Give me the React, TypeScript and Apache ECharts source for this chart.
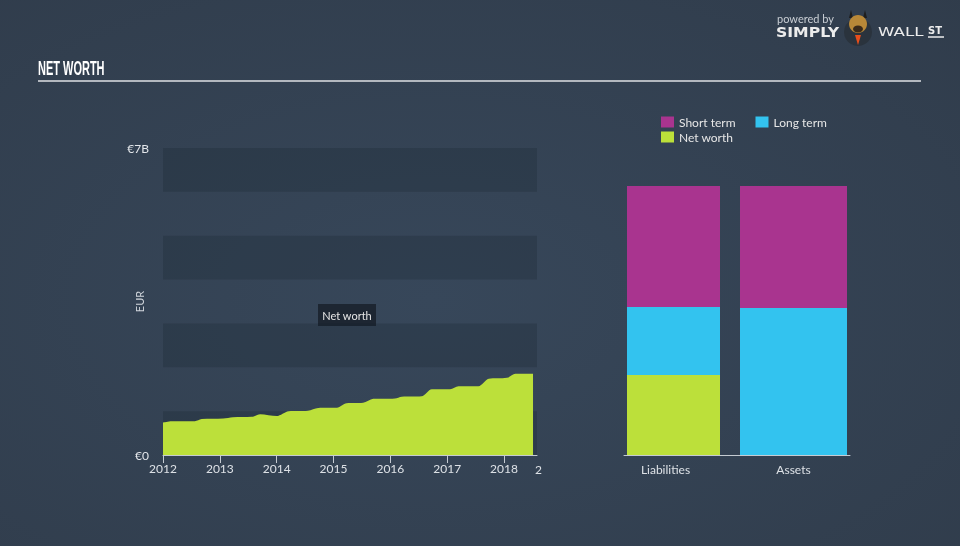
import React, { useEffect, useRef } from "react";
import * as echarts from "echarts";

// Net worth history (year as decimal, value in EUR billions)
const nwYears = [
  2012.0, 2012.15, 2012.56, 2012.68, 2013.06, 2013.23, 2013.56, 2013.71, 2014.0,
  2014.21, 2014.55, 2014.73, 2015.06, 2015.23, 2015.52, 2015.7, 2016.08, 2016.2,
  2016.55, 2016.73, 2017.05, 2017.2, 2017.55, 2017.73, 2018.05, 2018.2, 2018.51,
];
const nwValues = [
  0.74, 0.77, 0.77, 0.82, 0.83, 0.86, 0.87, 0.93, 0.89, 1.0, 1.01, 1.07, 1.08,
  1.18, 1.19, 1.28, 1.29, 1.33, 1.34, 1.5, 1.5, 1.57, 1.57, 1.74, 1.76, 1.85, 1.85,
];
const xMin = 2012;
const xMax = 2018.58;
const yMax = 7;

// Balance sheet (EUR billions)
const balanceCategories = ["Liabilities", "Assets"];
const liabilitiesNetWorth = 1.85;
const liabilitiesLongTerm = 1.57;
const liabilitiesShortTerm = 2.8;
const assetsLongTerm = 3.4;
const assetsShortTerm = 2.82;

const legendRow1 = ["Short term", "Long term"];
const legendRow2 = ["Net worth"];

const C_SHORT = "#a9348f";
const C_LONG = "#33c3ef";
const C_NET = "#bce03a";
const FONT = "Lato, 'Open Sans', sans-serif";

export default function App() {
  const ref = useRef<HTMLDivElement>(null);

  useEffect(() => {
    if (!ref.current) return;
    const chart = echarts.init(ref.current, undefined, { renderer: "svg" });
    const total = liabilitiesNetWorth + liabilitiesLongTerm + liabilitiesShortTerm;

    const option: any = {
      animation: false,
      backgroundColor: {
        type: "radial",
        x: 0.45,
        y: 0.55,
        r: 0.8,
        colorStops: [
          { offset: 0, color: "#37475a" },
          { offset: 1, color: "#303c4b" },
        ],
      },
      textStyle: { fontFamily: FONT },
      legend: [
        {
          data: legendRow1,
          left: 656,
          top: 111,
          icon: "rect",
          itemWidth: 13,
          itemHeight: 11,
          itemGap: 20,
          textStyle: { color: "#e6e6e6", fontSize: 12, fontFamily: FONT },
        },
        {
          data: legendRow2,
          left: 656,
          top: 126,
          icon: "rect",
          itemWidth: 13,
          itemHeight: 11,
          textStyle: { color: "#e6e6e6", fontSize: 12, fontFamily: FONT },
        },
      ],
      grid: [
        { left: 163, right: 423, top: 148, bottom: 91 },
        { left: 624, right: 110, top: 186, bottom: 91 },
      ],
      xAxis: [
        {
          type: "value",
          gridIndex: 0,
          min: xMin,
          max: xMax,
          interval: 1,
          axisLine: { show: true, lineStyle: { color: "#c5cbd2", width: 1 } },
          axisTick: { show: true, length: 8, lineStyle: { color: "#c5cbd2" } },
          axisLabel: {
            color: "#dde1e6",
            fontSize: 12,
            margin: 7,
            showMaxLabel: false,
            formatter: (v: number) => String(Math.round(v)),
          },
          splitLine: { show: false },
        },
        {
          type: "category",
          gridIndex: 1,
          data: [
            { value: balanceCategories[0], textStyle: { padding: [0, 30, 0, 0] } },
            { value: balanceCategories[1] },
          ],
          axisLine: { show: true, lineStyle: { color: "#c5cbd2", width: 1 } },
          axisTick: { show: false },
          axisLabel: { color: "#dde1e6", fontSize: 12, margin: 8 },
        },
      ],
      yAxis: [
        {
          type: "value",
          gridIndex: 0,
          min: 0,
          max: yMax,
          interval: 1,
          name: "EUR",
          nameLocation: "middle",
          nameRotate: 90,
          nameGap: 24,
          nameMoveOverlap: false,
          nameTextStyle: { color: "#d0d5db", fontSize: 11, verticalAlign: "middle" },
          axisLine: { show: false },
          axisTick: { show: false },
          axisLabel: {
            color: "#e3e6ea",
            fontSize: 12,
            margin: 14,
            formatter: (v: number) => (v === 0 ? "€0" : v === yMax ? "€7B" : ""),
          },
          splitLine: { show: false },
          splitArea: {
            show: true,
            areaStyle: { color: ["rgba(20,30,42,0.22)", "rgba(0,0,0,0)"] },
          },
        },
        {
          type: "value",
          gridIndex: 1,
          min: 0,
          max: total,
          show: false,
          splitLine: { show: false },
        },
      ],
      series: [
        {
          name: "Net worth",
          type: "line",
          xAxisIndex: 0,
          yAxisIndex: 0,
          data: nwYears.map((y, i) => [y, nwValues[i]]),
          smooth: 0.3,
          showSymbol: false,
          lineStyle: { width: 0, color: C_NET },
          itemStyle: { color: C_NET },
          areaStyle: { color: C_NET, opacity: 1 },
          silent: true,
        },
        {
          name: "Net worth",
          type: "bar",
          xAxisIndex: 1,
          yAxisIndex: 1,
          stack: "L",
          barWidth: 93,
          barGap: "-100%",
          itemStyle: { color: C_NET },
          data: [liabilitiesNetWorth, "-"],
        },
        {
          name: "Long term",
          type: "bar",
          xAxisIndex: 1,
          yAxisIndex: 1,
          stack: "L",
          barWidth: 93,
          barGap: "-100%",
          itemStyle: { color: C_LONG },
          data: [liabilitiesLongTerm, "-"],
        },
        {
          name: "Short term",
          type: "bar",
          xAxisIndex: 1,
          yAxisIndex: 1,
          stack: "L",
          barWidth: 93,
          barGap: "-100%",
          itemStyle: { color: C_SHORT },
          data: [liabilitiesShortTerm, "-"],
        },
        {
          name: "Long term",
          type: "bar",
          xAxisIndex: 1,
          yAxisIndex: 1,
          stack: "A",
          barWidth: 107,
          barGap: "-100%",
          itemStyle: { color: C_LONG },
          data: ["-", assetsLongTerm],
        },
        {
          name: "Short term",
          type: "bar",
          xAxisIndex: 1,
          yAxisIndex: 1,
          stack: "A",
          barWidth: 107,
          barGap: "-100%",
          itemStyle: { color: C_SHORT },
          data: ["-", assetsShortTerm],
        },
      ],
      graphic: [
        {
          type: "text",
          x: 38,
          y: 68,
          scaleX: 0.55,
          style: {
            text: "NET WORTH",
            fill: "#ffffff",
            font: "bold 20px 'Liberation Sans', Arial, sans-serif",
            verticalAlign: "middle",
          },
        },
        {
          type: "line",
          shape: { x1: 38, y1: 81, x2: 921, y2: 81 },
          style: { stroke: "#b3b8bf", lineWidth: 2 },
          silent: true,
        },
        {
          type: "text",
          x: 535,
          y: 469,
          style: {
            text: "2",
            fill: "#dde1e6",
            font: `12px ${FONT}`,
            verticalAlign: "middle",
          },
        },
        {
          type: "group",
          x: 318,
          y: 304,
          children: [
            {
              type: "rect",
              shape: { x: 0, y: 0, width: 58, height: 22 },
              style: { fill: "#1d2632" },
            },
            {
              type: "text",
              x: 29,
              y: 11,
              style: {
                text: "Net worth",
                fill: "#e6e6e6",
                font: `11px ${FONT}`,
                align: "center",
                verticalAlign: "middle",
              },
            },
          ],
        },
        // logo
        {
          type: "text",
          x: 777,
          y: 18,
          style: {
            text: "powered by",
            fill: "#c9ced4",
            font: `11px ${FONT}`,
            verticalAlign: "middle",
          },
        },
        {
          type: "text",
          x: 776,
          y: 32,
          scaleX: 1.12,
          style: {
            text: "SIMPLY",
            fill: "#ececec",
            font: "bold 14px 'DejaVu Sans', sans-serif",
            verticalAlign: "middle",
          },
        },
        {
          type: "circle",
          shape: { cx: 858, cy: 32, r: 14 },
          style: { fill: "#2a333d" },
        },
        {
          type: "polygon",
          shape: { points: [[849, 18], [851, 10], [853, 18]] },
          style: { fill: "#1e1e1e" },
        },
        {
          type: "polygon",
          shape: { points: [[863, 18], [865, 10], [867, 18]] },
          style: { fill: "#1e1e1e" },
        },
        {
          type: "ellipse",
          shape: { cx: 858, cy: 24, rx: 9, ry: 9 },
          style: { fill: "#b88838" },
        },
        {
          type: "ellipse",
          shape: { cx: 858, cy: 29, rx: 5, ry: 3.5 },
          style: { fill: "#3a2a1a" },
        },
        {
          type: "polygon",
          shape: { points: [[855, 35], [861, 35], [858, 45]] },
          style: { fill: "#e84e1b" },
        },
        {
          type: "text",
          x: 878,
          y: 32,
          scaleX: 1.28,
          style: {
            text: "WALL",
            fill: "#ececec",
            font: "13px 'DejaVu Sans', sans-serif",
            verticalAlign: "middle",
          },
        },
        {
          type: "text",
          x: 928,
          y: 30,
          style: {
            text: "ST",
            fill: "#ececec",
            font: "bold 10px 'DejaVu Sans', sans-serif",
            verticalAlign: "middle",
          },
        },
        {
          type: "line",
          shape: { x1: 928, y1: 37, x2: 944, y2: 37 },
          style: { stroke: "#ececec", lineWidth: 1.5 },
        },
      ],
    };

    chart.setOption(option);
    return () => chart.dispose();
  }, []);

  return (
    <div
      ref={ref}
      style={{ position: "fixed", left: 0, top: 0, width: 960, height: 546 }}
    />
  );
}
